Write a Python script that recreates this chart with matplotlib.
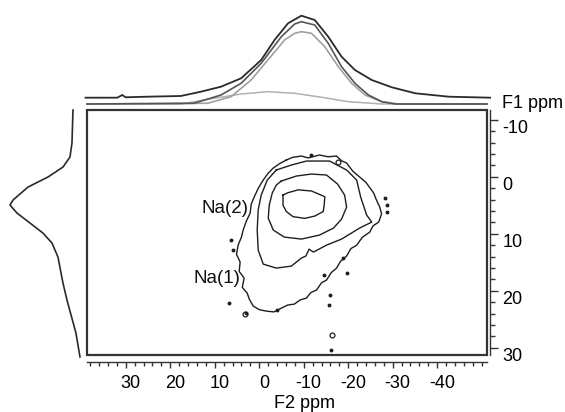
"""2D Na MQMAS-style contour map with F1/F2 projections."""

import matplotlib

matplotlib.use("Agg")
import matplotlib.pyplot as plt
from matplotlib.patches import Rectangle
from matplotlib.ticker import MultipleLocator
from matplotlib.transforms import ScaledTranslation

plt.rcParams["font.family"] = ["Liberation Sans", "DejaVu Sans"]
plt.rcParams["axes.unicode_minus"] = False

INK = "#1e1e1e"

c1_f2 = [-5.35, -6.48, -8.74, -11.74, -13.25, -14.74, -14.6, -14.38, -12.48, -10.23, -7.6, -6.1, -5.35]
c1_f1 = [3.2, 2.8, 2.3, 2.5, 3.0, 3.5, 5.0, 6.1, 6.9, 7.3, 7.0, 6.1, 5.0]

c2_f2 = [-4.97, -8.35, -11.74, -15.12, -17.61, -19.19, -19.64, -18.51, -16.7, -13.54,
         -9.48, -5.64, -3.16, -2.03, -2.26, -2.93, -3.84]
c2_f1 = [0.75, -0.12, -0.47, -0.3, 1.28, 3.21, 5.32, 7.42, 9.0, 10.23,
         10.93, 10.58, 9.35, 7.25, 4.96, 2.86, 1.46]

c3_f2 = [-3.84, -7.22, -10.61, -15.8, -19.64, -21.9, -22.8, -24.15, -25.28, -22.57, -18.51,
         -15.12, -12.19, -11.2, -10.5, -9.48, -7.22, -3.84, -0.9, 0.23, 0.45, 0.23, -0.45, -1.81]
c3_f1 = [-1.18, -2.05, -2.75, -2.75, -1.18, 0.58, 3.56, 6.72, 7.95, 9.0, 10.93,
         12.0, 13.21, 12.7, 13.9, 14.26, 15.67, 16.02, 15.32, 12.86, 9.35, 5.84, 3.21, 0.58]

c4_f2 = [-6.09, -7.5, -9.48, -11.0, -13.54, -15.5, -17.38, -18.5, -19.64, -21.0, -22.57,
         -24.0, -25.73, -26.3, -27.09, -27.5, -26.86, -25.6, -24.83, -23.2, -21.9, -20.6,
         -19.64, -18.3, -17.38, -16.2, -15.12, -14.0, -12.87, -11.6, -10.61, -9.2, -7.9,
         -6.4, -4.97, -3.3, -1.58, 0.0, 1.35, 2.2, 2.71, 3.8, 3.39, 4.5, 4.29, 5.1, 4.74,
         4.0, 3.61, 2.9, 2.03, 1.8, 1.13, 0.2, -0.9, -2.0, -3.16, -4.6]
c4_f1 = [-2.93, -3.4, -3.63, -3.3, -3.81, -3.5, -3.63, -2.8, -2.4, -1.0, 0.05,
         1.0, 2.86, 4.0, 5.32, 6.5, 7.95, 8.6, 9.72, 10.6, 12.0, 12.6,
         13.91, 14.8, 16.02, 16.8, 18.12, 18.6, 19.88, 20.3, 21.28, 21.6, 22.33,
         22.5, 23.04, 23.7, 23.56, 23.3, 22.68, 21.5, 20.4, 19.4, 17.77, 16.6, 14.96, 13.6, 11.98,
         10.6, 9.35, 7.8, 6.37, 4.8, 3.56, 2.0, 0.58, -0.6, -1.53, -2.3]

# isolated noise specks
noise_f2 = [-11.74, 6.32, 5.87, 6.77, 2.93, -15.8, -15.58, -16.03, -28.67, -14.5,
            -18.87, -19.77, -28.3, -28.75, -4.07]
noise_f1 = [-3.81, 11.1, 12.86, 22.16, 23.91, 20.75, 22.5, 30.4, 4.96, 17.2,
            14.26, 16.9, 3.74, 6.19, 23.4]
loop_f2 = [-16.25, -17.74, 3.17]
loop_f1 = [27.77, -2.58, 24.1]

# ---- F2 projections (top) ----
p_dark_f2 = [39.05, 31.9, 30.77, 30.02, 25.12, 17.61, 13.09, 8.58, 4.06, -0.45, -3.45, -6.48,
             -9.48, -12.48, -15.51, -18.51, -21.51, -25.28, -29.8, -35.06, -42.6, -51.9]
p_dark_i = [0.3, 0.3, 3.0, 0.7, 1.3, 2.0, 6.3, 11.3, 19.7, 38, 58, 74.7,
            82.3, 78, 61.3, 41.3, 28, 18, 10.7, 4.7, 1.3, 0.3]

p_mid_f2 = [38.7, 14.67, 8.58, 4.06, -0.45, -4.97, -7.97, -9.48, -12.48, -15.51, -18.51,
            -21.51, -24.54, -27.54, -30.54, -51.2]
p_mid_i = [0, 0.7, 9, 20.7, 40.7, 67.3, 80, 82.3, 79, 60.7, 37.3, 20.7, 9, 2.3, 0, 0]

p_light_f2 = [38.7, 11.58, 6.32, 1.81, -1.96, -5.71, -7.97, -9.48, -11.74, -14.74, -17.77,
              -20.77, -23.77, -27.54, -31.31, -51.2]
p_light_i = [0, 0.7, 7.3, 24, 44, 64, 70.7, 72.3, 70.7, 57.3, 37.3, 20.7, 9, 2.3, 0, 0]

p_broad_f2 = [38.7, 17.61, 10.09, 4.06, -1.96, -7.97, -14.0, -20.02, -27.54, -51.2]
p_broad_i = [0, 0, 5.7, 10, 12.3, 10.7, 6.7, 2.3, 0, 0]

# ---- F1 projection (left) ----
p_f1 = [-11.7, -5.9, -3.46, -1.7, 0.05, 1.81, 4.09, 4.96, 6.37, 8.12, 9.88,
        11.63, 14.09, 18.65, 21.63, 27.42, 31.6]
p_f1_i = [9, 10, 12, 19, 34, 54, 69, 72, 65, 52, 39, 30, 24, 19, 15, 6, 2]

F2_LIM = (38.7, -51.2)
F1_LIM = (31.26, -11.7)

fig = plt.figure(figsize=(5.65, 4.12), dpi=100)

# =============== main 2D map ===============
ax = fig.add_axes([0.154, 0.1383, 0.708, 0.5947])
ax.set_xlim(*F2_LIM)
ax.set_ylim(*F1_LIM)
ax.patch.set_alpha(0)

for xs, ys in [(c1_f2, c1_f1), (c2_f2, c2_f1), (c3_f2, c3_f1), (c4_f2, c4_f1)]:
    ax.plot(xs + xs[:1], ys + ys[:1], color=INK, lw=1.0)
ax.plot(noise_f2, noise_f1, ls="none", marker="o", ms=1.8, color=INK)
ax.plot(loop_f2, loop_f1, ls="none", marker="o", ms=3.5, mfc="none", mec=INK, mew=0.9)

ax.text(2.5, 5.5, "Na(2)", fontsize=13.5, ha="right", va="center", color="#111")
ax.text(4.3, 17.8, "Na(1)", fontsize=13.5, ha="right", va="center", color="#111")

# frame box
ax.add_patch(Rectangle((0, 0), 1, 1, transform=ax.transAxes, fill=False,
                       ec="#333333", lw=1.6, clip_on=False, zorder=5))

for s in ["top", "left"]:
    ax.spines[s].set_visible(False)
ax.spines["bottom"].set_position(("outward", 5))
ax.spines["right"].set_position(("outward", 2))
ax.spines["bottom"].set_color("#333")
ax.spines["right"].set_color("#333")
ax.spines["bottom"].set_linewidth(1.0)
ax.spines["right"].set_linewidth(1.0)

ax.yaxis.tick_right()
ax.xaxis.set_major_locator(MultipleLocator(10))
ax.xaxis.set_minor_locator(MultipleLocator(2))
ax.yaxis.set_major_locator(MultipleLocator(10))
ax.yaxis.set_minor_locator(MultipleLocator(2))
ax.set_xticks([30, 20, 10, 0, -10, -20, -30, -40])
ax.set_yticks([-10, 0, 10, 20, 30])
ax.tick_params(axis="x", which="major", length=4.5, width=1, direction="out",
               labelsize=13, pad=5, color="#333")
ax.tick_params(axis="x", which="minor", length=3, width=1, direction="out", color="#333")
ax.tick_params(axis="y", which="major", length=6, width=1, direction="out",
               labelsize=13, pad=3, color="#333")
ax.tick_params(axis="y", which="minor", length=3.5, width=1, direction="out", color="#333")

for lab in ax.get_xticklabels():
    lab.set_transform(lab.get_transform() + ScaledTranslation(5 / 100, 0, fig.dpi_scale_trans))
for lab in ax.get_yticklabels():
    lab.set_transform(lab.get_transform() + ScaledTranslation(0, -7 / 100, fig.dpi_scale_trans))

fig.text(304 / 565, 1 - 403 / 412, "F2 ppm", fontsize=13, ha="center", va="center")
fig.text(502 / 565, 1 - 104 / 412, "F1 ppm", fontsize=13, ha="left", va="center")

# =============== top projections ===============
axt = fig.add_axes([0.154, 0.7379, 0.708, 0.2427])
axt.set_xlim(*F2_LIM)
axt.set_ylim(0, 100)
axt.axis("off")
axt.plot(p_broad_f2, [4 + v for v in p_broad_i], color="#b0b0b0", lw=1.1, clip_on=False)
axt.plot(p_light_f2, [4 + v for v in p_light_i], color="#a0a0a0", lw=1.2, clip_on=False)
axt.plot(p_mid_f2, [4 + v for v in p_mid_i], color="#555555", lw=1.2, clip_on=False)
axt.plot(p_dark_f2, [10 + v for v in p_dark_i], color="#2a2a2a", lw=1.3, clip_on=False)

# =============== left projection ===============
axl = fig.add_axes([0.0, 0.1383, 0.1504, 0.5947])
axl.set_ylim(*F1_LIM)
axl.set_xlim(85, 0)
axl.axis("off")
axl.plot([3 + v for v in p_f1_i], p_f1, color="#2a2a2a", lw=1.2, clip_on=False)

fig.savefig("out.png", dpi=100)
plt.close()
